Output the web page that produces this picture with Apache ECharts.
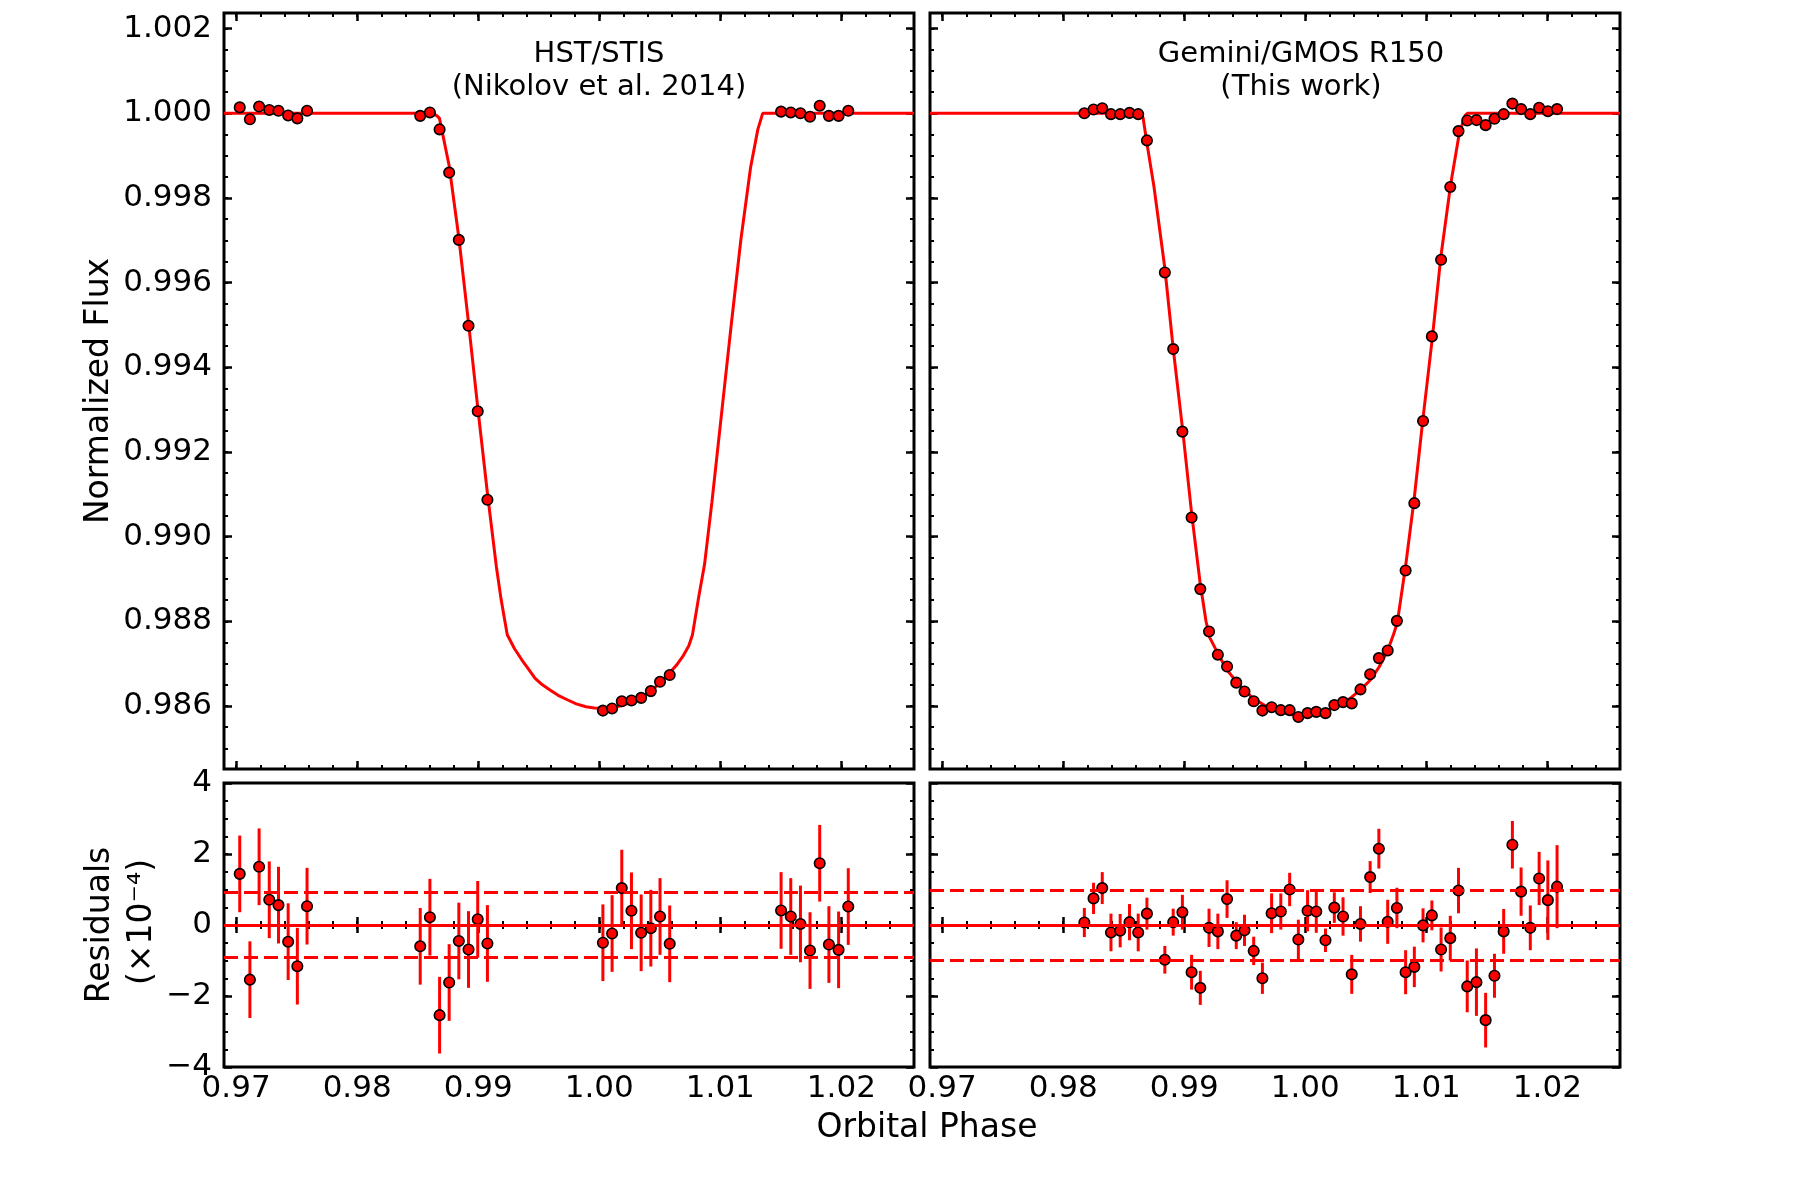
<!DOCTYPE html>
<html>
<head>
<meta charset="utf-8">
<script src="https://cdn.jsdelivr.net/npm/echarts@6/dist/echarts.min.js"></script>
<style>
  html, body { margin: 0; padding: 0; background: #fff; }
  #chart { width: 1800px; height: 1200px; }
</style>
</head>
<body>
<div id="chart"></div>
<script>
// ---- HST/STIS (left) ----
const hstPhase = [0.97030, 0.97114, 0.97190, 0.97274, 0.97350, 0.97430, 0.97506, 0.97586,
  0.98521, 0.98601, 0.98681, 0.98760, 0.98840, 0.98920, 0.98996, 0.99076,
  1.00030, 1.00106, 1.00186, 1.00266, 1.00346, 1.00426, 1.00502, 1.00582,
  1.01502, 1.01582, 1.01662, 1.01741, 1.01821, 1.01897, 1.01977, 1.02057]
const hstFlux = [1.00014, 0.99986, 1.00016, 1.00008, 1.00006, 0.99995, 0.99988, 1.00006,
  0.99994, 1.00002, 0.99962, 0.99860, 0.99701, 0.99498, 0.99296, 0.99087,
  0.98589, 0.98594, 0.98611, 0.98613, 0.98619, 0.98635, 0.98657, 0.98673,
  1.00004, 1.00002, 1.00000, 0.99992, 1.00018, 0.99994, 0.99994, 1.00006]
const hstResid = [1.44, -1.54, 1.64, 0.71, 0.56, -0.47, -1.16, 0.53,
  -0.60, 0.22, -2.54, -1.62, -0.45, -0.69, 0.16, -0.52,
  -0.50, -0.24, 1.04, 0.40, -0.22, -0.09, 0.24, -0.53,
  0.41, 0.24, 0.03, -0.72, 1.74, -0.55, -0.70, 0.52]
const hstErr = [1.08, 1.08, 1.08, 1.08, 1.08, 1.08, 1.08, 1.08,
  1.08, 1.08, 1.08, 1.08, 1.08, 1.08, 1.08, 1.08,
  1.08, 1.08, 1.08, 1.08, 1.08, 1.08, 1.08, 1.08,
  1.08, 1.08, 1.08, 1.08, 1.08, 1.08, 1.08, 1.08]
const hstModelPhase = [0.9690, 0.9862, 0.9866, 0.9868, 0.9876, 0.9884, 0.9892, 0.9900, 0.9908,
  0.9915, 0.9919, 0.9924, 0.9930, 0.9936, 0.9942, 0.9947, 0.9953, 0.9959, 0.9966, 0.9974,
  0.9981, 0.9989, 0.9996, 1.0003, 1.0011, 1.0019, 1.0027, 1.0035, 1.0043, 1.0050, 1.0058,
  1.0064, 1.0069, 1.0074, 1.0077, 1.0082, 1.0087, 1.0093, 1.0101, 1.0109, 1.0117, 1.0125,
  1.0131, 1.0135, 1.0260]
const hstModelFlux = [1.00000, 1.00000, 0.99994, 0.99988, 0.99876, 0.99706, 0.99505, 0.99295, 0.99093,
  0.98929, 0.98850, 0.98768, 0.98735, 0.98709, 0.98685, 0.98665, 0.98650, 0.98638, 0.98625, 0.98614,
  0.98605, 0.98598, 0.98595, 0.98594, 0.98596, 0.98601, 0.98609, 0.98621, 0.98636, 0.98654, 0.98678,
  0.98697, 0.98717, 0.98742, 0.98768, 0.98855, 0.98935, 0.99080, 0.99290, 0.99500, 0.99702, 0.99872,
  0.99962, 1.00000, 1.00000]
const hstBand = 0.91

// ---- Gemini/GMOS R150 (right) ----
const gmosPhase = [0.98175, 0.98251, 0.98323, 0.98395, 0.98471, 0.98548, 0.98620, 0.98692, 0.98840, 0.98909,
  0.98985, 0.99061, 0.99133, 0.99205, 0.99278, 0.99354, 0.99430, 0.99498, 0.99574, 0.99646,
  0.99722, 0.99798, 0.99871, 0.99943, 1.00019, 1.00091, 1.00167, 1.00240, 1.00312, 1.00384,
  1.00456, 1.00536, 1.00608, 1.00681, 1.00757, 1.00829, 1.00901, 1.00973, 1.01046, 1.01122,
  1.01198, 1.01266, 1.01338, 1.01414, 1.01490, 1.01563, 1.01639, 1.01711, 1.01783, 1.01859,
  1.01932, 1.02004, 1.02080]
const gmosFlux = [1.00000, 1.00009, 1.00012, 0.99998, 0.99998, 1.00001, 0.99998, 0.99936, 0.99624, 0.99443,
  0.99248, 0.99045, 0.98876, 0.98776, 0.98721, 0.98693, 0.98655, 0.98634, 0.98611, 0.98589,
  0.98597, 0.98590, 0.98590, 0.98574, 0.98583, 0.98586, 0.98583, 0.98602, 0.98609, 0.98606,
  0.98639, 0.98675, 0.98713, 0.98731, 0.98801, 0.98920, 0.99079, 0.99273, 0.99473, 0.99654,
  0.99826, 0.99958, 0.99983, 0.99984, 0.99972, 0.99987, 0.99998, 1.00023, 1.00010, 0.99998,
  1.00013, 1.00005, 1.00010]
const gmosResid = [0.07, 0.75, 1.04, -0.21, -0.16, 0.08, -0.21, 0.32, -0.98, 0.08,
  0.36, -1.33, -1.77, -0.08, -0.18, 0.73, -0.30, -0.15, -0.73, -1.50,
  0.33, 0.38, 1.00, -0.41, 0.40, 0.38, -0.43, 0.49, 0.24, -1.39,
  0.03, 1.35, 2.15, 0.09, 0.48, -1.33, -1.18, -0.01, 0.27, -0.69,
  -0.37, 0.97, -1.73, -1.61, -2.68, -1.43, -0.18, 2.26, 0.94, -0.08,
  1.31, 0.70, 1.08]
const gmosErr = [0.41, 0.44, 0.45, 0.53, 0.47, 0.51, 0.53, 0.45, 0.39, 0.38,
  0.49, 0.49, 0.48, 0.54, 0.50, 0.53, 0.38, 0.44, 0.40, 0.44,
  0.56, 0.51, 0.47, 0.56, 0.58, 0.60, 0.33, 0.43, 0.54, 0.55,
  0.50, 0.45, 0.56, 0.62, 0.57, 0.62, 0.57, 0.48, 0.42, 0.62,
  0.63, 0.64, 0.73, 0.95, 0.77, 0.62, 0.63, 0.67, 0.68, 0.63,
  0.75, 1.12, 1.17]
const gmosModelPhase = [0.9690, 0.9862, 0.9866, 0.9869, 0.9875, 0.9884, 0.9891, 0.9899, 0.9906, 0.9913,
  0.9918, 0.9921, 0.9928, 0.9935, 0.9943, 0.9950, 0.9957, 0.9965, 0.9972, 0.9980,
  0.9987, 0.9994, 1.0002, 1.0009, 1.0017, 1.0024, 1.0031, 1.0038, 1.0046, 1.0054,
  1.0061, 1.0068, 1.0073, 1.0076, 1.0083, 1.0090, 1.0097, 1.0105, 1.0112, 1.0120,
  1.0127, 1.0132, 1.0134, 1.0260]
const gmosModelFlux = [1.00000, 1.00000, 0.99990, 0.99933, 0.99827, 0.99634, 0.99442, 0.99245, 0.99058, 0.98894,
  0.98800, 0.98762, 0.98723, 0.98686, 0.98658, 0.98636, 0.98618, 0.98604, 0.98593, 0.98586,
  0.98580, 0.98578, 0.98579, 0.98583, 0.98587, 0.98597, 0.98606, 0.98620, 0.98639, 0.98662,
  0.98692, 0.98730, 0.98770, 0.98796, 0.98933, 0.99090, 0.99273, 0.99470, 0.99661, 0.99830,
  0.99949, 0.99995, 1.00000, 1.00000]
const gmosBand = 0.98

// ---- axes / ticks ----
const phaseRange = [0.969, 1.026]
const fluxRange = [0.98451, 1.00237]
const residRange = [-4, 4]
const phaseTicks = [0.97, 0.98, 0.99, 1.00, 1.01, 1.02]
const fluxTicks = [0.986, 0.988, 0.990, 0.992, 0.994, 0.996, 0.998, 1.000, 1.002]
const residTicks = [-4, -2, 0, 2, 4]
const phaseMinor = []
for (let v = 970; v <= 1026; v += 2) phaseMinor.push(v / 1000)
const fluxMinor = []
for (let v = 9850; v <= 10020; v += 5) fluxMinor.push(v / 10000)
const residMinor = []
for (let v = -8; v <= 8; v++) residMinor.push(v / 2)

const RED = '#ff0000'
const FONT = 'DejaVu Sans'

const grids = [
  { left: 224, top: 13, width: 690, height: 756, show: true, borderColor: '#000', borderWidth: 3 },
  { left: 930, top: 13, width: 690, height: 756, show: true, borderColor: '#000', borderWidth: 3 },
  { left: 224, top: 783, width: 690, height: 284, show: true, borderColor: '#000', borderWidth: 3 },
  { left: 930, top: 783, width: 690, height: 284, show: true, borderColor: '#000', borderWidth: 3 }
]

// major + minor tick axes on both sides of a panel (ticks point inward)
function makeAxes(dim, gridIndex, range, major, minor, showLabel, fmt) {
  const sides = dim === 'x' ? ['bottom', 'top'] : ['left', 'right']
  const out = []
  sides.forEach((pos, si) => {
    [major, minor].forEach((vals, mi) => {
      out.push({
        type: 'value', gridIndex: gridIndex, position: pos,
        min: range[0], max: range[1],
        axisLine: { show: false }, splitLine: { show: false },
        axisTick: { show: true, inside: true, length: mi === 0 ? 8 : 4,
          customValues: vals, lineStyle: { color: '#000', width: mi === 0 ? 2.5 : 2 } },
        axisLabel: {
          show: showLabel && si === 0 && mi === 0,
          customValues: major, formatter: fmt,
          fontFamily: FONT, fontSize: 31, color: '#000',
          margin: dim === 'x' ? 6 : 12
        }
      })
    })
  })
  return out
}

const fmtPhase = v => v.toFixed(2)
const fmtFlux = v => v.toFixed(3)
const fmtResid = v => (v < 0 ? '\u2212' : '') + Math.abs(v)

const xAxis = [].concat(
  makeAxes('x', 0, phaseRange, phaseTicks, phaseMinor, false, fmtPhase),
  makeAxes('x', 1, phaseRange, phaseTicks, phaseMinor, false, fmtPhase),
  makeAxes('x', 2, phaseRange, phaseTicks, phaseMinor, true, fmtPhase),
  makeAxes('x', 3, phaseRange, phaseTicks, phaseMinor, true, fmtPhase)
)
const yAxis = [].concat(
  makeAxes('y', 0, fluxRange, fluxTicks, fluxMinor, true, fmtFlux),
  makeAxes('y', 1, fluxRange, fluxTicks, fluxMinor, false, fmtFlux),
  makeAxes('y', 2, residRange, residTicks, residMinor, true, fmtResid),
  makeAxes('y', 3, residRange, residTicks, residMinor, false, fmtResid)
)

function zip(a, b) { return a.map((v, i) => [v, b[i]]) }

const dot = { color: RED, borderColor: '#000', borderWidth: 1.6, opacity: 1 }

function fluxSeries(g, phase, flux, mPhase, mFlux) {
  return [{
    type: 'line', xAxisIndex: g * 4, yAxisIndex: g * 4,
    data: zip(mPhase, mFlux), showSymbol: false, smooth: false,
    lineStyle: { color: RED, width: 3 }, z: 2
  }, {
    type: 'scatter', xAxisIndex: g * 4, yAxisIndex: g * 4,
    data: zip(phase, flux), symbol: 'circle', symbolSize: 10.5,
    itemStyle: dot, z: 3
  }]
}

function residSeries(g, phase, resid, err, band) {
  return [{
    type: 'custom', xAxisIndex: g * 4, yAxisIndex: g * 4,
    data: phase.map((p, i) => [p, resid[i], err[i]]),
    encode: { x: 0, y: 1 },
    renderItem: (params, api) => {
      const x = api.value(0), y = api.value(1), e = api.value(2)
      const a = api.coord([x, y - e]), b = api.coord([x, y + e])
      return { type: 'line', shape: { x1: a[0], y1: a[1], x2: b[0], y2: b[1] },
        style: { stroke: RED, lineWidth: 3 } }
    },
    markLine: {
      silent: true, symbol: ['none', 'none'], label: { show: false },
      lineStyle: { color: RED, width: 3, type: [14, 6] },
      data: [{ yAxis: 0, lineStyle: { type: 'solid' } }, { yAxis: band }, { yAxis: -band }]
    },
    z: 2
  }, {
    type: 'scatter', xAxisIndex: g * 4, yAxisIndex: g * 4,
    data: zip(phase, resid), symbol: 'circle', symbolSize: 10.5,
    itemStyle: dot, z: 3
  }]
}

const txt = { fontFamily: FONT, fill: '#000', align: 'center', verticalAlign: 'middle' }

const chart = echarts.init(document.getElementById('chart'), null, { renderer: 'canvas' })
chart.setOption({
  animation: false,
  backgroundColor: '#fff',
  grid: grids,
  xAxis: xAxis,
  yAxis: yAxis,
  series: [].concat(
    fluxSeries(0, hstPhase, hstFlux, hstModelPhase, hstModelFlux),
    fluxSeries(1, gmosPhase, gmosFlux, gmosModelPhase, gmosModelFlux),
    residSeries(2, hstPhase, hstResid, hstErr, hstBand),
    residSeries(3, gmosPhase, gmosResid, gmosErr, gmosBand)
  ),
  graphic: [
    { type: 'text', x: 599, y: 71, style: Object.assign({ text: 'HST/STIS\n(Nikolov et al. 2014)', fontSize: 29, lineHeight: 33 }, txt) },
    { type: 'text', x: 1301, y: 71, style: Object.assign({ text: 'Gemini/GMOS R150\n(This work)', fontSize: 29, lineHeight: 33 }, txt) },
    { type: 'text', x: 99, y: 391, rotation: Math.PI / 2, style: Object.assign({ text: 'Normalized Flux', fontSize: 33 }, txt) },
    { type: 'text', x: 100, y: 925, rotation: Math.PI / 2, style: Object.assign({ text: 'Residuals', fontSize: 33 }, txt) },
    { type: 'text', x: 142, y: 922, rotation: Math.PI / 2, style: Object.assign({ text: '(\u00d710\u207b\u2074)', fontSize: 33 }, txt) },
    { type: 'text', x: 927, y: 1128, style: Object.assign({ text: 'Orbital Phase', fontSize: 33 }, txt) }
  ]
})
</script>
</body>
</html>
